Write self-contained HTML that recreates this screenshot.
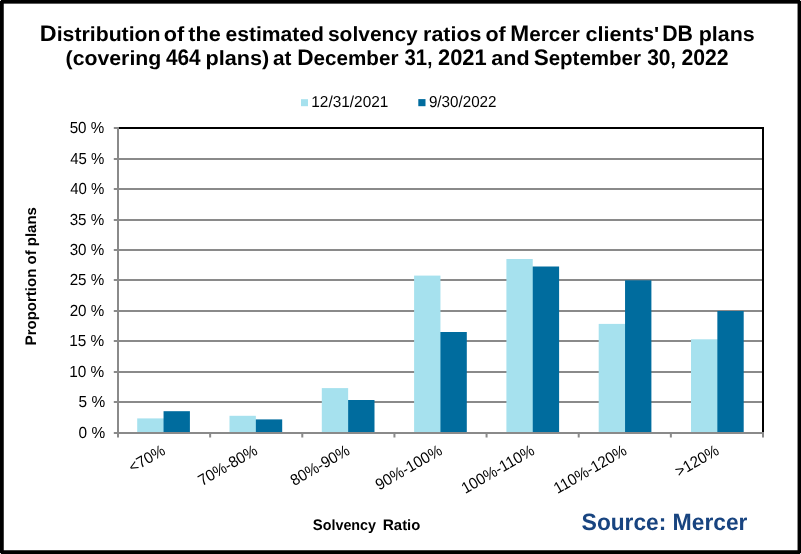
<!DOCTYPE html>
<html><head><meta charset="utf-8"><title>Solvency ratios chart</title><style>
html,body{margin:0;padding:0;background:#fff;}
body{width:801px;height:554px;overflow:hidden;position:relative;}
svg{position:absolute;left:0;top:0;will-change:transform;}
text{font-family:"Liberation Sans",Arial,sans-serif;text-rendering:geometricPrecision;}
</style></head><body>
<svg width="801" height="554" viewBox="0 0 801 554">
<rect x="0" y="0" width="801" height="554" fill="#fff"/>
<rect x="301" y="99.2" width="7" height="7" fill="#A6E1EE"/>
<rect x="418.3" y="99.1" width="7.2" height="7.1" fill="#006C9E"/>
<rect x="118" y="158" width="645" height="2" fill="#8a8a8a"/>
<rect x="118" y="188" width="645" height="2" fill="#8a8a8a"/>
<rect x="118" y="219" width="645" height="2" fill="#8a8a8a"/>
<rect x="118" y="249" width="645" height="2" fill="#8a8a8a"/>
<rect x="118" y="279" width="645" height="2" fill="#8a8a8a"/>
<rect x="118" y="310" width="645" height="2" fill="#8a8a8a"/>
<rect x="118" y="340" width="645" height="2" fill="#8a8a8a"/>
<rect x="118" y="371" width="645" height="2" fill="#8a8a8a"/>
<rect x="118" y="401" width="645" height="2" fill="#8a8a8a"/>
<rect x="137.20" y="418.4" width="27.15" height="14.60" fill="#A6E1EE"/>
<rect x="163.55" y="411.2" width="26.35" height="21.80" fill="#006C9E"/>
<rect x="255.05" y="419.4" width="27.15" height="13.60" fill="#006C9E"/>
<rect x="229.50" y="415.8" width="26.35" height="17.20" fill="#A6E1EE"/>
<rect x="347.35" y="400.0" width="27.15" height="33.00" fill="#006C9E"/>
<rect x="321.80" y="388.1" width="26.35" height="44.90" fill="#A6E1EE"/>
<rect x="439.65" y="332.0" width="27.15" height="101.00" fill="#006C9E"/>
<rect x="414.10" y="275.6" width="26.35" height="157.40" fill="#A6E1EE"/>
<rect x="531.95" y="266.5" width="27.15" height="166.50" fill="#006C9E"/>
<rect x="506.40" y="259.0" width="26.35" height="174.00" fill="#A6E1EE"/>
<rect x="598.70" y="323.9" width="27.15" height="109.10" fill="#A6E1EE"/>
<rect x="625.05" y="280.3" width="26.35" height="152.70" fill="#006C9E"/>
<rect x="691.00" y="339.3" width="27.15" height="93.70" fill="#A6E1EE"/>
<rect x="717.35" y="311.0" width="26.35" height="122.00" fill="#006C9E"/>
<rect x="118" y="127" width="646" height="2" fill="#000"/>
<rect x="762" y="127" width="2" height="306" fill="#000"/>
<rect x="117" y="127" width="2" height="310.5" fill="#8a8a8a"/>
<rect x="113.8" y="127" width="4.2" height="2" fill="#8a8a8a"/>
<rect x="113.8" y="158" width="4.2" height="2" fill="#8a8a8a"/>
<rect x="113.8" y="188" width="4.2" height="2" fill="#8a8a8a"/>
<rect x="113.8" y="219" width="4.2" height="2" fill="#8a8a8a"/>
<rect x="113.8" y="249" width="4.2" height="2" fill="#8a8a8a"/>
<rect x="113.8" y="279" width="4.2" height="2" fill="#8a8a8a"/>
<rect x="113.8" y="310" width="4.2" height="2" fill="#8a8a8a"/>
<rect x="113.8" y="340" width="4.2" height="2" fill="#8a8a8a"/>
<rect x="113.8" y="371" width="4.2" height="2" fill="#8a8a8a"/>
<rect x="113.8" y="401" width="4.2" height="2" fill="#8a8a8a"/>
<rect x="113.8" y="432" width="4.2" height="2" fill="#8a8a8a"/>
<rect x="117" y="432" width="647" height="2" fill="#8a8a8a"/>
<rect x="209.14" y="432" width="2" height="5.5" fill="#8a8a8a"/>
<rect x="301.29" y="432" width="2" height="5.5" fill="#8a8a8a"/>
<rect x="393.43" y="432" width="2" height="5.5" fill="#8a8a8a"/>
<rect x="485.57" y="432" width="2" height="5.5" fill="#8a8a8a"/>
<rect x="577.71" y="432" width="2" height="5.5" fill="#8a8a8a"/>
<rect x="669.86" y="432" width="2" height="5.5" fill="#8a8a8a"/>
<rect x="762.00" y="432" width="2" height="5.5" fill="#8a8a8a"/>
<text transform="translate(166.37,453.5) rotate(-30)" text-anchor="end" font-size="15.8" fill="#000" textLength="39.05" lengthAdjust="spacingAndGlyphs">&lt;70%</text>
<text transform="translate(258.67,453.5) rotate(-30)" text-anchor="end" font-size="15.8" fill="#000" textLength="65.49" lengthAdjust="spacingAndGlyphs">70%-80%</text>
<text transform="translate(350.97,453.5) rotate(-30)" text-anchor="end" font-size="15.8" fill="#000" textLength="65.49" lengthAdjust="spacingAndGlyphs">80%-90%</text>
<text transform="translate(443.27,453.5) rotate(-30)" text-anchor="end" font-size="15.8" fill="#000" textLength="73.88" lengthAdjust="spacingAndGlyphs">90%-100%</text>
<text transform="translate(535.57,453.5) rotate(-30)" text-anchor="end" font-size="15.8" fill="#000" textLength="81.17" lengthAdjust="spacingAndGlyphs">100%-110%</text>
<text transform="translate(627.87,453.5) rotate(-30)" text-anchor="end" font-size="15.8" fill="#000" textLength="81.17" lengthAdjust="spacingAndGlyphs">110%-120%</text>
<text transform="translate(720.17,453.5) rotate(-30)" text-anchor="end" font-size="15.8" fill="#000" textLength="47.46" lengthAdjust="spacingAndGlyphs">&gt;120%</text>
<text transform="translate(36.1,345.61) rotate(-90)" font-size="15.3" font-weight="bold" fill="#000" textLength="138.57" lengthAdjust="spacingAndGlyphs">P<tspan font-size="14.8">roportion of plans</tspan></text>
<text x="39.85" y="40.7" font-size="22.5" font-weight="bold" fill="#000" textLength="120.72" lengthAdjust="spacingAndGlyphs">D<tspan font-size="20.5">istribution</tspan></text>
<text x="163.71" y="40.7" font-size="22.5" font-weight="bold" fill="#000" textLength="20.41" lengthAdjust="spacingAndGlyphs"><tspan font-size="20.5">of</tspan></text>
<text x="188.34" y="40.7" font-size="22.5" font-weight="bold" fill="#000" textLength="32.46" lengthAdjust="spacingAndGlyphs"><tspan font-size="20.5">the</tspan></text>
<text x="225.43" y="40.7" font-size="22.5" font-weight="bold" fill="#000" textLength="98.59" lengthAdjust="spacingAndGlyphs"><tspan font-size="20.5">estimated</tspan></text>
<text x="327.93" y="40.7" font-size="22.5" font-weight="bold" fill="#000" textLength="89.82" lengthAdjust="spacingAndGlyphs"><tspan font-size="20.5">solvency</tspan></text>
<text x="423.10" y="40.7" font-size="22.5" font-weight="bold" fill="#000" textLength="58.27" lengthAdjust="spacingAndGlyphs"><tspan font-size="20.5">ratios</tspan></text>
<text x="485.41" y="40.7" font-size="22.5" font-weight="bold" fill="#000" textLength="20.30" lengthAdjust="spacingAndGlyphs"><tspan font-size="20.5">of</tspan></text>
<text x="510.29" y="40.7" font-size="22.5" font-weight="bold" fill="#000" textLength="69.54" lengthAdjust="spacingAndGlyphs">M<tspan font-size="20.5">ercer</tspan></text>
<text x="585.41" y="40.7" font-size="22.5" font-weight="bold" fill="#000" textLength="73.73" lengthAdjust="spacingAndGlyphs"><tspan font-size="20.5">clients&#x27;</tspan></text>
<text x="662.18" y="40.7" font-size="22.5" font-weight="bold" fill="#000" textLength="30.77" lengthAdjust="spacingAndGlyphs">DB</text>
<text x="698.69" y="40.7" font-size="22.5" font-weight="bold" fill="#000" textLength="55.94" lengthAdjust="spacingAndGlyphs"><tspan font-size="20.5">plans</tspan></text>
<text x="65.56" y="64.5" font-size="22.5" font-weight="bold" fill="#000" textLength="95.77" lengthAdjust="spacingAndGlyphs"><tspan font-size="20.5">(covering</tspan></text>
<text x="165.97" y="64.5" font-size="22.5" font-weight="bold" fill="#000" textLength="34.67" lengthAdjust="spacingAndGlyphs">464</text>
<text x="205.58" y="64.5" font-size="22.5" font-weight="bold" fill="#000" textLength="63.71" lengthAdjust="spacingAndGlyphs"><tspan font-size="20.5">plans)</tspan></text>
<text x="272.99" y="64.5" font-size="22.5" font-weight="bold" fill="#000" textLength="18.44" lengthAdjust="spacingAndGlyphs"><tspan font-size="20.5">at</tspan></text>
<text x="297.29" y="64.5" font-size="22.5" font-weight="bold" fill="#000" textLength="101.15" lengthAdjust="spacingAndGlyphs">D<tspan font-size="20.5">ecember</tspan></text>
<text x="404.55" y="64.5" font-size="22.5" font-weight="bold" fill="#000" textLength="27.77" lengthAdjust="spacingAndGlyphs">31<tspan font-size="20.5">,</tspan></text>
<text x="437.97" y="64.5" font-size="22.5" font-weight="bold" fill="#000" textLength="48.68" lengthAdjust="spacingAndGlyphs">2021</text>
<text x="491.38" y="64.5" font-size="22.5" font-weight="bold" fill="#000" textLength="38.25" lengthAdjust="spacingAndGlyphs"><tspan font-size="20.5">and</tspan></text>
<text x="533.65" y="64.5" font-size="22.5" font-weight="bold" fill="#000" textLength="107.25" lengthAdjust="spacingAndGlyphs">S<tspan font-size="20.5">eptember</tspan></text>
<text x="647.23" y="64.5" font-size="22.5" font-weight="bold" fill="#000" textLength="28.61" lengthAdjust="spacingAndGlyphs">30<tspan font-size="20.5">,</tspan></text>
<text x="681.49" y="64.5" font-size="22.5" font-weight="bold" fill="#000" textLength="47.17" lengthAdjust="spacingAndGlyphs">2022</text>
<text x="311.29" y="107.1" font-size="15.8" font-weight="normal" fill="#000" textLength="77.09" lengthAdjust="spacingAndGlyphs">12/31/2021</text>
<text x="428.88" y="107.1" font-size="15.8" font-weight="normal" fill="#000" textLength="67.67" lengthAdjust="spacingAndGlyphs">9/30/2022</text>
<text x="69.69" y="132.6" font-size="16.0" font-weight="normal" fill="#000" textLength="34.56" lengthAdjust="spacingAndGlyphs">50 %</text>
<text x="70.17" y="163.6" font-size="16.0" font-weight="normal" fill="#000" textLength="34.07" lengthAdjust="spacingAndGlyphs">45 %</text>
<text x="70.17" y="193.6" font-size="16.0" font-weight="normal" fill="#000" textLength="34.07" lengthAdjust="spacingAndGlyphs">40 %</text>
<text x="69.69" y="224.6" font-size="16.0" font-weight="normal" fill="#000" textLength="34.56" lengthAdjust="spacingAndGlyphs">35 %</text>
<text x="69.69" y="254.6" font-size="16.0" font-weight="normal" fill="#000" textLength="34.56" lengthAdjust="spacingAndGlyphs">30 %</text>
<text x="69.69" y="285.25" font-size="16.0" font-weight="normal" fill="#000" textLength="34.56" lengthAdjust="spacingAndGlyphs">25 %</text>
<text x="69.69" y="315.6" font-size="16.0" font-weight="normal" fill="#000" textLength="34.56" lengthAdjust="spacingAndGlyphs">20 %</text>
<text x="69.20" y="345.6" font-size="16.0" font-weight="normal" fill="#000" textLength="35.05" lengthAdjust="spacingAndGlyphs">15 %</text>
<text x="69.20" y="376.6" font-size="16.0" font-weight="normal" fill="#000" textLength="35.05" lengthAdjust="spacingAndGlyphs">10 %</text>
<text x="78.58" y="406.6" font-size="16.0" font-weight="normal" fill="#000" textLength="26.58" lengthAdjust="spacingAndGlyphs">5 %</text>
<text x="78.58" y="437.6" font-size="16.0" font-weight="normal" fill="#000" textLength="26.58" lengthAdjust="spacingAndGlyphs">0 %</text>
<text x="312.76" y="529.8" font-size="15.3" font-weight="bold" fill="#000" textLength="63.29" lengthAdjust="spacingAndGlyphs">S<tspan font-size="14.7">olvency</tspan></text>
<text x="382.69" y="529.8" font-size="15.3" font-weight="bold" fill="#000" textLength="37.61" lengthAdjust="spacingAndGlyphs">R<tspan font-size="14.7">atio</tspan></text>
<text x="581.47" y="530.1" font-size="23.6" font-weight="bold" fill="#184480" textLength="165.89" lengthAdjust="spacingAndGlyphs">S<tspan font-size="23.2">ource: </tspan>M<tspan font-size="23.2">ercer</tspan></text>
<rect x="0" y="0" width="801" height="3.65" fill="#000"/>
<rect x="0" y="550.25" width="801" height="3.75" fill="#000"/>
<rect x="0" y="0" width="3.75" height="554" fill="#000"/>
<rect x="797.55" y="0" width="3.45" height="554" fill="#000"/>
<rect x="0" y="0" width="1" height="1" fill="#ddd"/>
<rect x="800" y="0" width="1" height="1" fill="#ddd"/>
<rect x="0" y="553" width="1" height="1" fill="#ddd"/>
<rect x="800" y="553" width="1" height="1" fill="#ddd"/>
</svg>
</body></html>
